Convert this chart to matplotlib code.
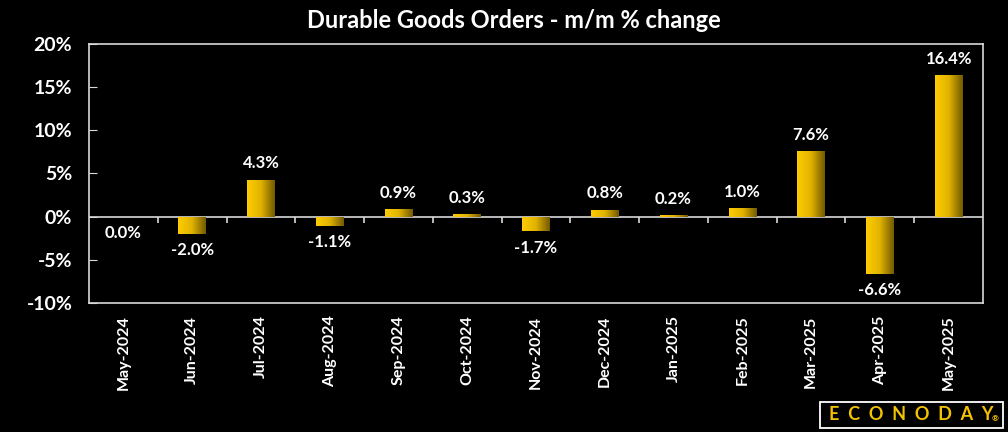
import numpy as np
import matplotlib.pyplot as plt
from matplotlib.colors import LinearSegmentedColormap
from matplotlib.patches import Rectangle

months = ['May-2024', 'Jun-2024', 'Jul-2024', 'Aug-2024', 'Sep-2024', 'Oct-2024',
          'Nov-2024', 'Dec-2024', 'Jan-2025', 'Feb-2025', 'Mar-2025', 'Apr-2025', 'May-2025']
values = [-0.05, -2.0, 4.3, -1.1, 0.9, 0.3, -1.7, 0.8, 0.2, 1.0, 7.6, -6.6, 16.4]
labels = ['0.0%', '-2.0%', '4.3%', '-1.1%', '0.9%', '0.3%', '-1.7%', '0.8%',
          '0.2%', '1.0%', '7.6%', '-6.6%', '16.4%']
yticks = [-10, -5, 0, 5, 10, 15, 20]

plt.rcParams['font.family'] = ['Lato', 'DejaVu Sans']
plt.rcParams['font.weight'] = 'bold'

W, H = 1008, 432
fig = plt.figure(figsize=(W/100, H/100), dpi=100, facecolor='black')
ax = fig.add_axes([89/W, 1 - 303/H, (983-89)/W, (303-44)/H])
ax.set_facecolor('black')

x = np.arange(len(months))
bars = ax.bar(x, values, width=0.4, color='none', edgecolor='none')

cmap = LinearSegmentedColormap.from_list('gold', ['#ffcc00', '#e0b300', '#735a00'])
grad = np.linspace(0, 1, 64).reshape(1, -1)
for b in bars:
    x0, y0 = b.get_x(), b.get_y()
    w, h = b.get_width(), b.get_height()
    im = ax.imshow(grad, cmap=cmap, extent=[x0, x0 + w, y0, y0 + h],
                   aspect='auto', zorder=4, interpolation='bilinear')
    im.set_clip_path(b)

for xi, v, lab in zip(x, values, labels):
    off = 6 if v > 0 else -6
    ax.annotate(lab, (xi, v), xytext=(0, off), textcoords='offset points',
                ha='center', va='bottom' if v > 0 else 'top',
                color='white', fontsize=12, fontweight='bold')

ax.set_xlim(-0.5, len(months) - 0.5)
ax.set_ylim(-10, 20)
ax.set_yticks(yticks)
ax.set_yticklabels([f'{t}%' for t in yticks])
ax.tick_params(axis='y', direction='in', length=6, color='#d9d9d9',
               labelcolor='white', labelsize=14, pad=12)
ax.set_xticks(x)
ax.set_xticklabels(months, rotation=90)
ax.tick_params(axis='x', length=0, labelcolor='white', labelsize=11.5, pad=9)

for s in ax.spines.values():
    s.set_color('#d9d9d9')
    s.set_linewidth(1.2)

ax.axhline(0, color='#d9d9d9', lw=1.2, zorder=3)
bounds = np.arange(len(months) + 1) - 0.5
ax.vlines(bounds[1:-1], -0.7, 0, color='#d9d9d9', lw=1.2, zorder=3)

fig.text(514/W, 1 - 20/H, 'Durable Goods Orders - m/m % change', ha='center',
         va='center', color='white', fontsize=17, fontweight='bold')

# logo
fig.patches.append(Rectangle((820/W, 1 - 428/H), 183/W, 26/H, transform=fig.transFigure,
                             fc='black', ec='white', lw=1.3))
fig.text(911/W, 1 - 415/H, 'E  C  O  N  O  D  A  Y', ha='center', va='center',
         color='#f2c200', fontsize=13, fontweight='bold')
fig.text(995/W, 1 - 419/H, '\u00ae', ha='center', va='center',
         color='#f2c200', fontsize=6, fontweight='bold')

fig.savefig('out.png', dpi=100, facecolor='black')
